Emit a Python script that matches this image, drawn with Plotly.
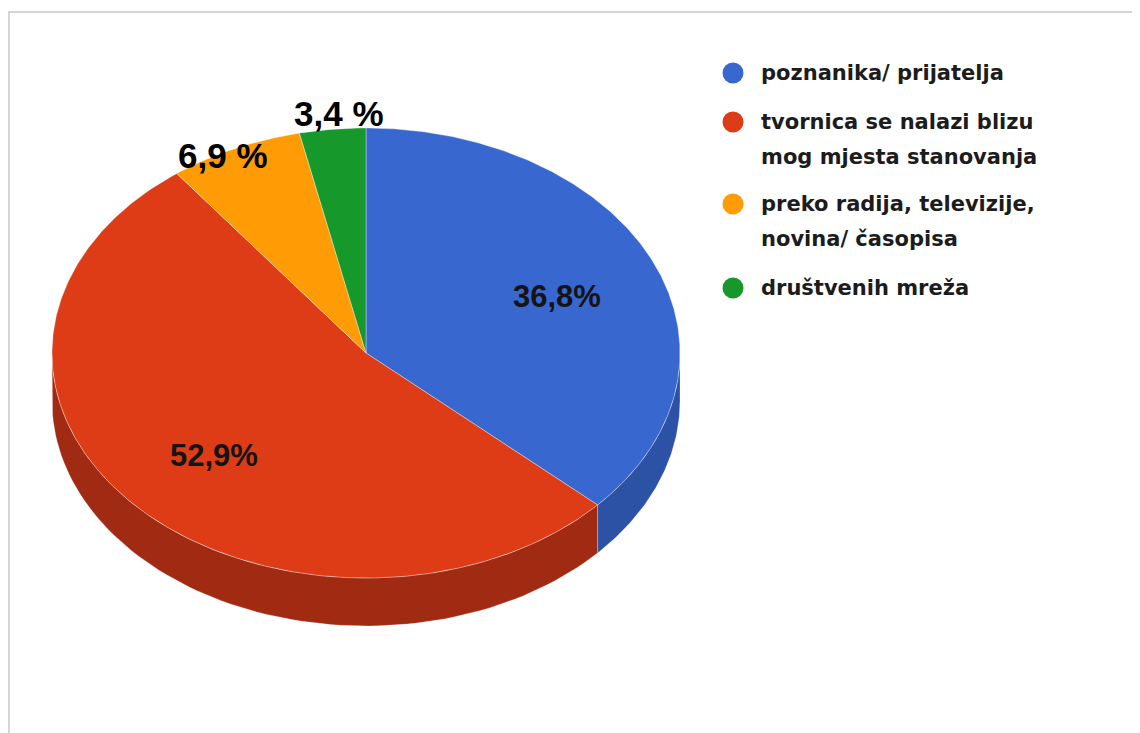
import numpy as np
import plotly.graph_objects as go

# ---- data ----
categories = ["poznanika/ prijatelja",
              "tvornica se nalazi blizu mog mjesta stanovanja",
              "preko radija, televizije, novina/ časopisa",
              "društvenih mreža"]
legend_lines = [["poznanika/ prijatelja"],
                ["tvornica se nalazi blizu", "mog mjesta stanovanja"],
                ["preko radija, televizije,", "novina/ časopisa"],
                ["društvenih mreža"]]
values = [36.8, 52.9, 6.9, 3.4]
value_labels = ["36,8%", "52,9%", "6,9 %", "3,4 %"]

# ---- styling / layout constants ----
top_colors = ["#3867D0", "#DE3C16", "#FF9C05", "#16982A"]
side_colors = ["#2C52A6", "#A02B12", "#C87800", "#0F6E1E"]
W, H = 1140, 733
OFF = 8  # page body margin
cx, cy, rx, ry, depth = 366, 353, 314, 225, 48


def pt(theta_deg, dy=0.0):
    t = np.radians(theta_deg)
    return cx + rx * np.sin(t), cy - ry * np.cos(t) + dy


fig = go.Figure()

total = sum(values)
bounds = np.concatenate([[0], np.cumsum(values) / total * 360])

# side walls (visible front half: 90..270 deg clockwise from top)
for i in range(len(values)):
    a, b = bounds[i], bounds[i + 1]
    lo, hi = max(a, 90), min(b, 270)
    if hi <= lo:
        continue
    th = np.linspace(lo, hi, 80)
    xs_t, ys_t = pt(th)
    xs_b, ys_b = pt(th[::-1], depth)
    xs = np.concatenate([xs_t, xs_b, [xs_t[0]]])
    ys = np.concatenate([ys_t, ys_b, [ys_t[0]]])
    fig.add_trace(go.Scatter(x=xs, y=ys, mode="lines", fill="toself",
                             fillcolor=side_colors[i],
                             line=dict(color="rgba(255,255,255,0.25)", width=1),
                             hoverinfo="skip", showlegend=False))

# top faces
for i in range(len(values)):
    a, b = bounds[i], bounds[i + 1]
    th = np.linspace(a, b, max(10, int((b - a) * 2)))
    xs_t, ys_t = pt(th)
    xs = np.concatenate([[cx], xs_t, [cx]])
    ys = np.concatenate([[cy], ys_t, [cy]])
    fig.add_trace(go.Scatter(x=xs, y=ys, mode="lines", fill="toself",
                             fillcolor=top_colors[i],
                             line=dict(color="rgba(255,255,255,0.35)", width=1),
                             name=categories[i], hoverinfo="name",
                             showlegend=False))

# value labels
label_pos = [(557, 296), (214, 455), (223, 155), (339, 113)]
label_size = [31, 31, 35, 35]
label_color = ["#141414", "#141414", "#000000", "#000000"]
for i, txt in enumerate(value_labels):
    fig.add_annotation(x=label_pos[i][0], y=label_pos[i][1], text="<b>%s</b>" % txt,
                       showarrow=False, xanchor="center", yanchor="middle",
                       font=dict(family="Liberation Sans, Arial", size=label_size[i],
                                 color=label_color[i]))

# legend (manual)
leg_y = [73, 122, 204, 288]
fig.add_trace(go.Scatter(x=[733] * 4, y=leg_y, mode="markers",
                         marker=dict(size=21, color=top_colors, line=dict(width=0)),
                         hoverinfo="skip", showlegend=False))
for i, lines in enumerate(legend_lines):
    for j, ln in enumerate(lines):
        fig.add_annotation(x=759, y=leg_y[i] + 35 * j, text="<b>%s</b>" % ln,
                           showarrow=False, xanchor="left", yanchor="middle",
                           font=dict(family="DejaVu Sans", size=21, color="#1c1c1c"))

# frame
fig.add_shape(type="path", path="M 9 733 L 9 12 L 1140 12", xref="x", yref="y",
              line=dict(color="#d6d6d6", width=2))

fig.update_layout(width=W - OFF, height=H - OFF, margin=dict(l=0, r=0, t=0, b=0),
                  paper_bgcolor="white", plot_bgcolor="white",
                  xaxis=dict(range=[OFF, W], visible=False, fixedrange=True),
                  yaxis=dict(range=[H, OFF], visible=False, fixedrange=True),
                  showlegend=False)

fig.write_html("out.html", config={"displayModeBar": False})
